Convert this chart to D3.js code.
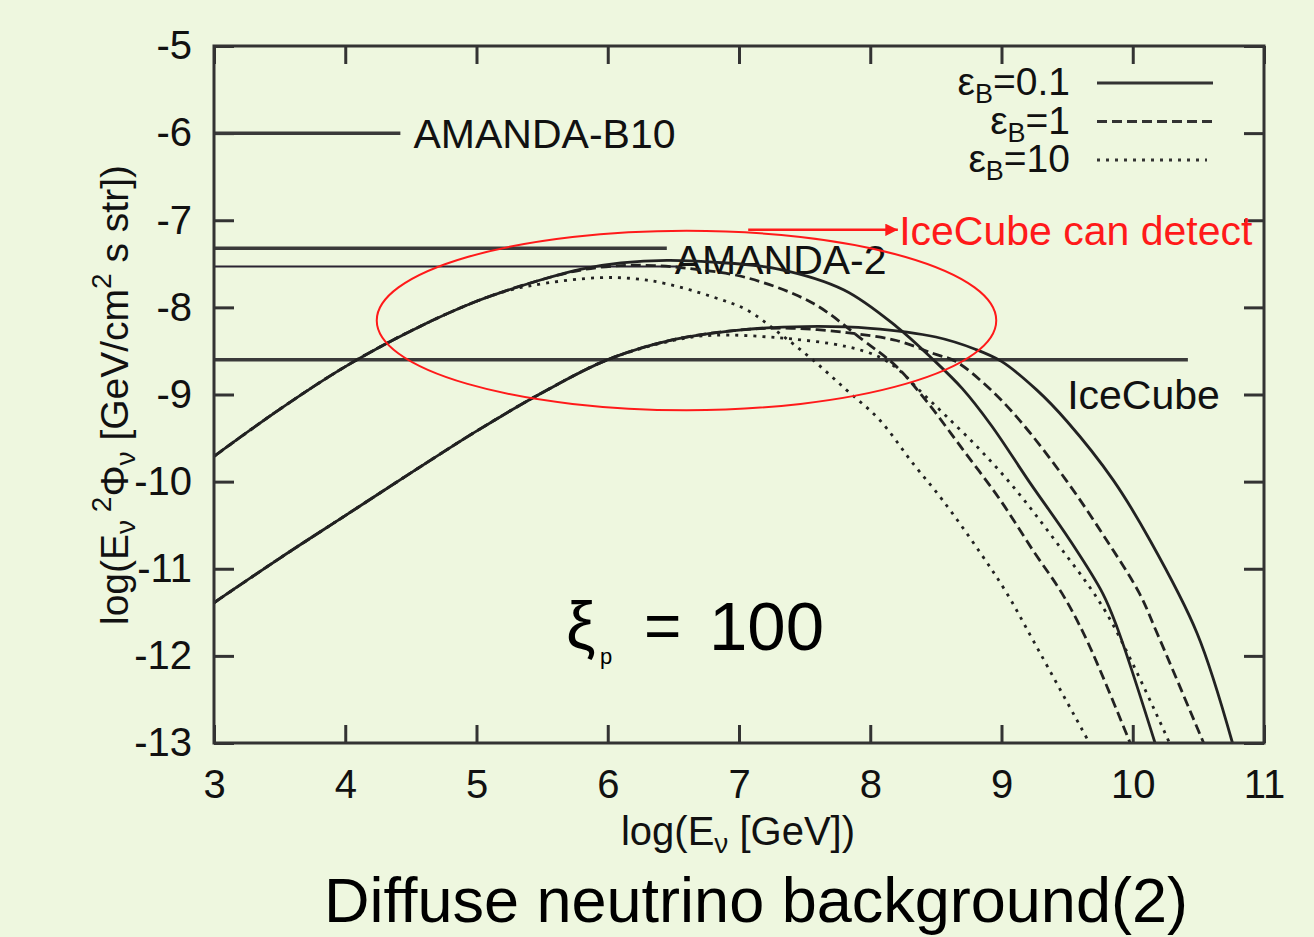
<!DOCTYPE html>
<html>
<head>
<meta charset="utf-8">
<script src="https://cdn.jsdelivr.net/npm/d3@7"></script>
<style>
  html, body { margin: 0; padding: 0; background: #eef7df; }
  svg { display: block; font-family: "Liberation Sans", Arial, sans-serif; }
</style>
</head>
<body>
<div id="chart"></div>
<script>
;(function () {
  const width = 1314
  const height = 937

  // tick values
  const xTicks = [3, 4, 5, 6, 7, 8, 9, 10, 11]
  const yTicks = [-5, -6, -7, -8, -9, -10, -11, -12, -13]

  // eps_B = 0.1 / 1 / 10, upper family  [log E, log flux]
  const upperSolid = [[3.0,-9.71],[3.5,-9.17],[4.0,-8.68],[4.5,-8.27],[5.0,-7.93],[5.5,-7.68],[5.8,-7.56],[6.1,-7.49],[6.45,-7.46],[6.8,-7.48],[7.3,-7.56],[7.8,-7.8],[8.2,-8.22],[8.48,-8.6],[8.7,-8.93],[8.92,-9.35],[9.22,-10.02],[9.52,-10.67],[9.77,-11.28],[9.88,-11.67],[10.17,-13.0]]
  const upperDashed = [[3.0,-9.71],[3.5,-9.17],[4.0,-8.68],[4.5,-8.27],[5.0,-7.93],[5.5,-7.68],[5.8,-7.57],[6.1,-7.52],[6.35,-7.52],[6.6,-7.55],[7.06,-7.66],[7.56,-7.95],[7.94,-8.37],[8.2,-8.68],[8.43,-9.08],[8.71,-9.64],[8.99,-10.21],[9.24,-10.79],[9.46,-11.28],[9.65,-11.82],[9.98,-13.0]]
  const upperDotted = [[3.0,-9.71],[3.5,-9.17],[4.0,-8.68],[4.5,-8.27],[5.0,-7.93],[5.26,-7.8],[5.54,-7.72],[5.92,-7.66],[6.2,-7.67],[6.45,-7.73],[6.8,-7.88],[7.06,-8.03],[7.31,-8.3],[7.56,-8.6],[7.82,-8.95],[8.07,-9.29],[8.33,-9.8],[8.55,-10.21],[8.84,-10.82],[9.04,-11.28],[9.24,-11.82],[9.67,-13.0]]

  // lower family
  const lowerSolid = [[3.0,-11.39],[3.5,-10.88],[4.0,-10.39],[4.5,-9.9],[5.0,-9.42],[5.5,-8.98],[6.0,-8.6],[6.5,-8.37],[7.0,-8.26],[7.5,-8.22],[8.0,-8.24],[8.5,-8.34],[8.8,-8.48],[9.0,-8.62],[9.27,-8.95],[9.5,-9.31],[9.85,-9.98],[10.13,-10.67],[10.49,-11.74],[10.76,-13.0]]
  const lowerDashed = [[3.0,-11.39],[3.5,-10.88],[4.0,-10.39],[4.5,-9.9],[5.0,-9.42],[5.5,-8.98],[6.0,-8.6],[6.5,-8.37],[7.0,-8.26],[7.4,-8.24],[7.82,-8.29],[8.2,-8.38],[8.48,-8.53],[8.65,-8.62],[8.9,-8.92],[9.14,-9.3],[9.5,-10.0],[9.8,-10.67],[10.05,-11.28],[10.18,-11.72],[10.54,-13.0]]
  const lowerDotted = [[3.0,-11.39],[3.5,-10.88],[4.0,-10.39],[4.5,-9.9],[5.0,-9.42],[5.5,-8.98],[6.0,-8.6],[6.5,-8.38],[6.8,-8.32],[7.31,-8.35],[7.82,-8.45],[8.07,-8.57],[8.22,-8.72],[8.38,-8.96],[8.58,-9.25],[8.84,-9.64],[9.09,-10.06],[9.42,-10.7],[9.8,-11.51],[10.28,-13.0]]

  // experimental limits
  const limitNames = ["AMANDA-B10", "AMANDA-2", "", "IceCube"]
  const limitFlux = [-6, -7.32, -7.53, -8.6]
  const limitEnd = [4.42, 6.45, 6.55, 10.42]
  const limitLabelX = [4.52, 6.51, 0, 9.5]
  const limitLabelY = [-6, -7.45, 0, -9.0]

  // legend
  const legendValues = ["0.1", "1", "10"]
  const legendDash = ["none", "10,5", "3,6"]

  const x = d3.scaleLinear().domain([3, 11]).range([214, 1264])
  const y = d3.scaleLinear().domain([-5, -13]).range([46, 743])

  const svg = d3.select("#chart").append("svg").attr("width", width).attr("height", height)

  svg.append("rect").attr("width", width).attr("height", height).attr("fill", "#eef7df")

  // axes, ticks pointing inward
  const axisStyle = g => {
    g.select(".domain").remove()
    g.selectAll(".tick line").attr("stroke", "#333").attr("stroke-width", 3)
    g.selectAll(".tick text").attr("fill", "#111").style("font-size", "40px")
  }

  svg.append("g").attr("transform", "translate(0,743)")
    .call(d3.axisBottom(x).tickValues(xTicks).tickSize(-18).tickPadding(27).tickFormat(d => String(d)))
    .call(axisStyle)
  svg.append("g").attr("transform", "translate(0,46)")
    .call(d3.axisTop(x).tickValues(xTicks).tickSize(-18).tickFormat(""))
    .call(axisStyle)
  svg.append("g").attr("transform", "translate(214,0)")
    .call(d3.axisLeft(y).tickValues(yTicks).tickSize(-20).tickPadding(22).tickFormat(d => String(d)))
    .call(axisStyle)
  svg.append("g").attr("transform", "translate(1264,0)")
    .call(d3.axisRight(y).tickValues(yTicks).tickSize(-20).tickFormat(""))
    .call(axisStyle)

  // limit lines
  svg.selectAll(".limit")
    .data(limitFlux)
    .join("line")
    .attr("class", "limit")
    .attr("x1", x(3))
    .attr("x2", (d, i) => x(limitEnd[i]))
    .attr("y1", d => y(d))
    .attr("y2", d => y(d))
    .attr("stroke", (d, i) => (i === 2 ? "#2a2433" : "#3a3a3a"))
    .attr("stroke-width", (d, i) => (i === 2 ? 2 : 3.5))

  svg.selectAll(".limit-label")
    .data(limitNames.filter(d => d))
    .join("text")
    .attr("class", "limit-label")
    .attr("x", d => x(limitLabelX[limitNames.indexOf(d)]))
    .attr("y", d => y(limitLabelY[limitNames.indexOf(d)]))
    .attr("dy", "0.36em")
    .attr("fill", "#111")
    .style("font-size", "41px")
    .text(d => d)

  // model curves
  const line = d3.line().x(d => x(d[0])).y(d => y(d[1])).curve(d3.curveCatmullRom.alpha(0.5))
  const curves = [
    { data: upperSolid, dash: "none" },
    { data: upperDashed, dash: "10,5" },
    { data: upperDotted, dash: "3,6" },
    { data: lowerSolid, dash: "none" },
    { data: lowerDashed, dash: "10,5" },
    { data: lowerDotted, dash: "3,6" }
  ]
  svg.append("g")
    .selectAll("path")
    .data(curves)
    .join("path")
    .attr("d", d => line(d.data))
    .attr("fill", "none")
    .attr("stroke", "#222")
    .attr("stroke-width", 2.8)
    .attr("stroke-dasharray", d => d.dash)

  // frame
  svg.append("rect")
    .attr("x", x(3)).attr("y", y(-5))
    .attr("width", x(11) - x(3)).attr("height", y(-13) - y(-5))
    .attr("fill", "none").attr("stroke", "#333").attr("stroke-width", 3)

  // legend
  const legend = svg.append("g")
  legendValues.forEach((v, i) => {
    const yy = 95 + i * 38.5
    const t = legend.append("text").attr("x", 1070).attr("y", yy).attr("text-anchor", "end")
      .attr("fill", "#111").style("font-size", "39px")
    t.append("tspan").text("ε")
    t.append("tspan").attr("dy", 8).style("font-size", "27px").text("B")
    t.append("tspan").attr("dy", -8).text("=" + v)
    legend.append("line")
      .attr("x1", 1097).attr("x2", i === 2 ? 1207 : 1213)
      .attr("y1", yy - 12).attr("y2", yy - 12)
      .attr("stroke", "#333").attr("stroke-width", 3)
      .attr("stroke-dasharray", legendDash[i])
  })

  // red ellipse and arrow
  svg.append("ellipse")
    .attr("cx", x(6.6)).attr("cy", y(-8.15))
    .attr("rx", x(6.6 + 2.36) - x(6.6)).attr("ry", y(-8.15 - 1.03) - y(-8.15))
    .attr("fill", "none").attr("stroke", "#ff1a1a").attr("stroke-width", 2)

  svg.append("defs").append("marker")
    .attr("id", "arrow").attr("viewBox", "0 0 10 10").attr("refX", 10).attr("refY", 5)
    .attr("markerWidth", 5).attr("markerHeight", 5).attr("orient", "auto")
    .append("path").attr("d", "M0,0L10,5L0,10z").attr("fill", "#ff1a1a")

  svg.append("line")
    .attr("x1", x(7.07)).attr("x2", x(8.21))
    .attr("y1", y(-7.11)).attr("y2", y(-7.11))
    .attr("stroke", "#ff1a1a").attr("stroke-width", 2.5)
    .attr("marker-end", "url(#arrow)")

  svg.append("text")
    .attr("x", x(8.22)).attr("y", y(-7.11)).attr("dy", "0.36em")
    .attr("fill", "#ff1a1a").style("font-size", "41px")
    .text("IceCube can detect")

  // xi_p = 100
  svg.append("text").attr("x", 566).attr("y", 648).attr("fill", "#000").style("font-size", "66px").text("ξ")
  svg.append("text").attr("x", 600).attr("y", 664).attr("fill", "#000").style("font-size", "22px").text("p")
  svg.append("text").attr("x", 644).attr("y", 648).attr("fill", "#000").style("font-size", "64px").text("=")
  svg.append("text").attr("x", 709).attr("y", 650).attr("fill", "#000").style("font-size", "69px").text("100")

  // axis titles
  const xt = svg.append("text").attr("x", 738).attr("y", 845).attr("text-anchor", "middle")
    .attr("fill", "#111").style("font-size", "40px")
  xt.append("tspan").text("log(E")
  xt.append("tspan").attr("dy", 8).style("font-size", "28px").text("ν")
  xt.append("tspan").attr("dy", -8).text(" [GeV])")

  const yt = svg.append("text").attr("transform", "translate(128,395) rotate(-90)")
    .attr("text-anchor", "middle").attr("fill", "#111").style("font-size", "39px")
  yt.append("tspan").text("log(E")
  yt.append("tspan").attr("dy", 7).style("font-size", "28px").text("ν")
  yt.append("tspan").attr("dy", -24).style("font-size", "28px").text(" 2")
  yt.append("tspan").attr("dy", 17).text("Φ")
  yt.append("tspan").attr("dy", 7).style("font-size", "28px").text("ν")
  yt.append("tspan").attr("dy", -7).text(" [GeV/cm")
  yt.append("tspan").attr("dy", -17).style("font-size", "28px").text("2")
  yt.append("tspan").attr("dy", 17).text(" s str])")

  // title
  svg.append("text").attr("x", 756).attr("y", 922).attr("text-anchor", "middle")
    .attr("fill", "#000").style("font-size", "63px")
    .text("Diffuse neutrino background(2)")
})()
</script>
</body>
</html>
